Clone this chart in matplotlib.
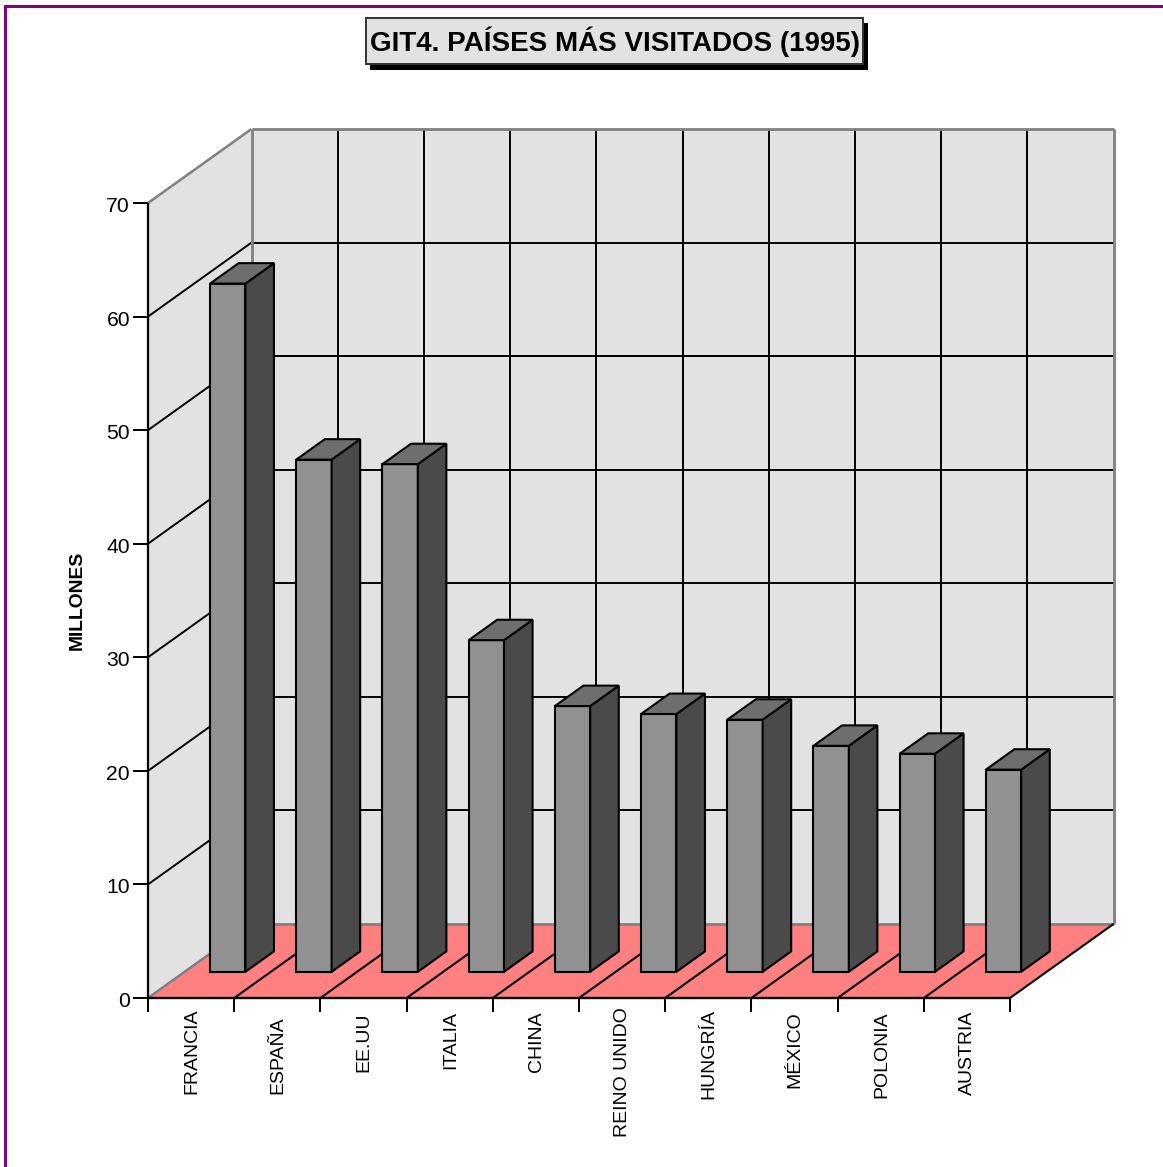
import matplotlib
matplotlib.use("Agg")
import matplotlib.pyplot as plt
from matplotlib.patches import Polygon, Rectangle

plt.rcParams['font.family'] = ['Liberation Sans', 'DejaVu Sans']

# Data
paises = ['FRANCIA', 'ESPAÑA', 'EE.UU', 'ITALIA', 'CHINA', 'REINO UNIDO',
          'HUNGRÍA', 'MÉXICO', 'POLONIA', 'AUSTRIA']
millones = [60.6, 45.1, 44.7, 29.2, 23.4, 22.7, 22.2, 19.9, 19.2, 17.8]
valores_eje = [0, 10, 20, 30, 40, 50, 60, 70]
# distance from the axis to the start of each rotated label (px)
label_gap = [11, 18, 15, 13, 13, 9, 11, 13, 13, 13]

W, H = 1163, 1167
X0, Y0 = 148, 998      # pixel of category 0 / value 0
PX_CAT = 86.2
PX_VAL = 11.357
DX = 103.5 / PX_CAT    # depth of the box, in category units
DY = 74 / PX_VAL       # depth of the box, in value units
n = len(paises)
vmax = valores_eje[-1]

WALL = '#E2E2E2'
FLOOR = '#FF8080'
EDGE = '#808080'
FRONT = '#919191'
SIDE = '#4A4A4A'
TOP = '#6E6E6E'
PURPLE = '#800080'

LW = 1.5


def p(cat, val, depth=0.0):
    # oblique projection: depth moves a point right and up
    return (cat + depth * DX, val + depth * DY)


def line(a, b, color='black', lw=LW, z=2):
    ax.plot([a[0], b[0]], [a[1], b[1]], color=color, lw=lw, zorder=z,
            solid_capstyle='butt')


def poly(pts, fc, z, ec='black', lw=LW):
    ax.add_patch(Polygon(pts, closed=True, facecolor=fc, edgecolor=ec, lw=lw,
                         zorder=z, joinstyle='miter'))


fig = plt.figure(figsize=(W / 100, H / 100), dpi=100)
ax = fig.add_axes([0, 0, 1, 1])
ax.set_xlim(-X0 / PX_CAT, (W - X0) / PX_CAT)
ax.set_ylim((Y0 - H) / PX_VAL, Y0 / PX_VAL)
ax.axis('off')

# Walls
poly([p(0, 0), p(0, vmax), p(0, vmax, 1), p(0, 0, 1)], WALL, 1, ec='none', lw=0)
poly([p(0, 0, 1), p(0, vmax, 1), p(n, vmax, 1), p(n, 0, 1)], WALL, 1, ec='none', lw=0)

# Grid
for v in valores_eje[1:-1]:
    line(p(0, v), p(0, v, 1), lw=1.4)
    line(p(0, v, 1), p(n, v, 1), lw=1.4)
for i in range(1, n):
    line(p(i, 0, 1), p(i, vmax, 1), lw=1.4)

# Wall edges
line(p(0, vmax), p(0, vmax, 1), EDGE, 1.8, 3)
line(p(0, vmax, 1), p(n, vmax, 1), EDGE, 2.0, 3)
line(p(0, 0, 1), p(0, vmax, 1), EDGE, 2.0, 3)
line(p(n, 0, 1), p(n, vmax, 1), EDGE, 2.0, 3)

# Floor
poly([p(0, 0), p(n, 0), p(n, 0, 1), p(0, 0, 1)], FLOOR, 4, ec='none', lw=0)
line(p(0, 0, 1), p(n, 0, 1), EDGE, 2.0, 5)
line(p(0, 0), p(0, 0, 1), EDGE, 1.8, 5)
for i in range(1, n + 1):
    line(p(i, 0), p(i, 0, 1), z=5)
line(p(0, 0), p(n, 0), lw=1.7, z=6)

# Left axis and ticks
line(p(0, 0), p(0, vmax), lw=1.6, z=6)
for v in valores_eje:
    line(p(-15 / PX_CAT, v), p(0, v), lw=1.4, z=6)
    ax.text(-18 / PX_CAT, v - 3.5 / PX_VAL, str(v), ha='right', va='center',
            fontsize=15.2, color='black')
for i in range(n + 1):
    line(p(i, 0), p(i, -14 / PX_VAL), lw=1.4, z=6)

# Bars, left to right so each one covers the floor lines behind it
d0, d1 = 0.354, 0.63
off, ancho = 0.295, 0.41
for i, v in enumerate(millones):
    z = 10 + i
    l, r = i + off, i + off + ancho
    poly([p(l, 0, d0), p(r, 0, d0), p(r, v, d0), p(l, v, d0)], FRONT, z)
    poly([p(r, 0, d0), p(r, 0, d1), p(r, v, d1), p(r, v, d0)], SIDE, z)
    poly([p(l, v, d0), p(r, v, d0), p(r, v, d1), p(l, v, d1)], TOP, z)

# Category labels
for i, nombre in enumerate(paises):
    ax.text(i + 0.51, -label_gap[i] / PX_VAL, nombre, rotation=90,
            ha='center', va='top', fontsize=14, color='black')

# Axis title
ax.text(-71 / PX_CAT, (Y0 - 600) / PX_VAL, 'MILLONES', rotation=90, ha='center',
        va='center', fontsize=13.9, fontweight='bold', color='black')


def fig_rect(x0, y0, x1, y1, **kw):
    # rectangle given in image pixels, for the page decoration
    fig.add_artist(Rectangle((x0 / W, 1 - y1 / H), (x1 - x0) / W, (y1 - y0) / H,
                             transform=fig.transFigure, **kw))


# Page frame
fig_rect(4, 5, W, 8, facecolor=PURPLE, edgecolor='none')
fig_rect(4, 5, 7, H, facecolor=PURPLE, edgecolor='none')

# Title box with shadow
fig_rect(369.5, 23, 868, 70, facecolor='black', edgecolor='none')
fig_rect(365.5, 17.5, 862.5, 63.5, facecolor=WALL, edgecolor='#333333', lw=1.4)
fig.text(615.5 / W, 1 - 41.5 / H, 'GIT4. PAÍSES MÁS VISITADOS (1995)',
         ha='center', va='center', fontsize=19.95, fontweight='bold', color='black')

fig.savefig('out.png', dpi=100, facecolor='white')
